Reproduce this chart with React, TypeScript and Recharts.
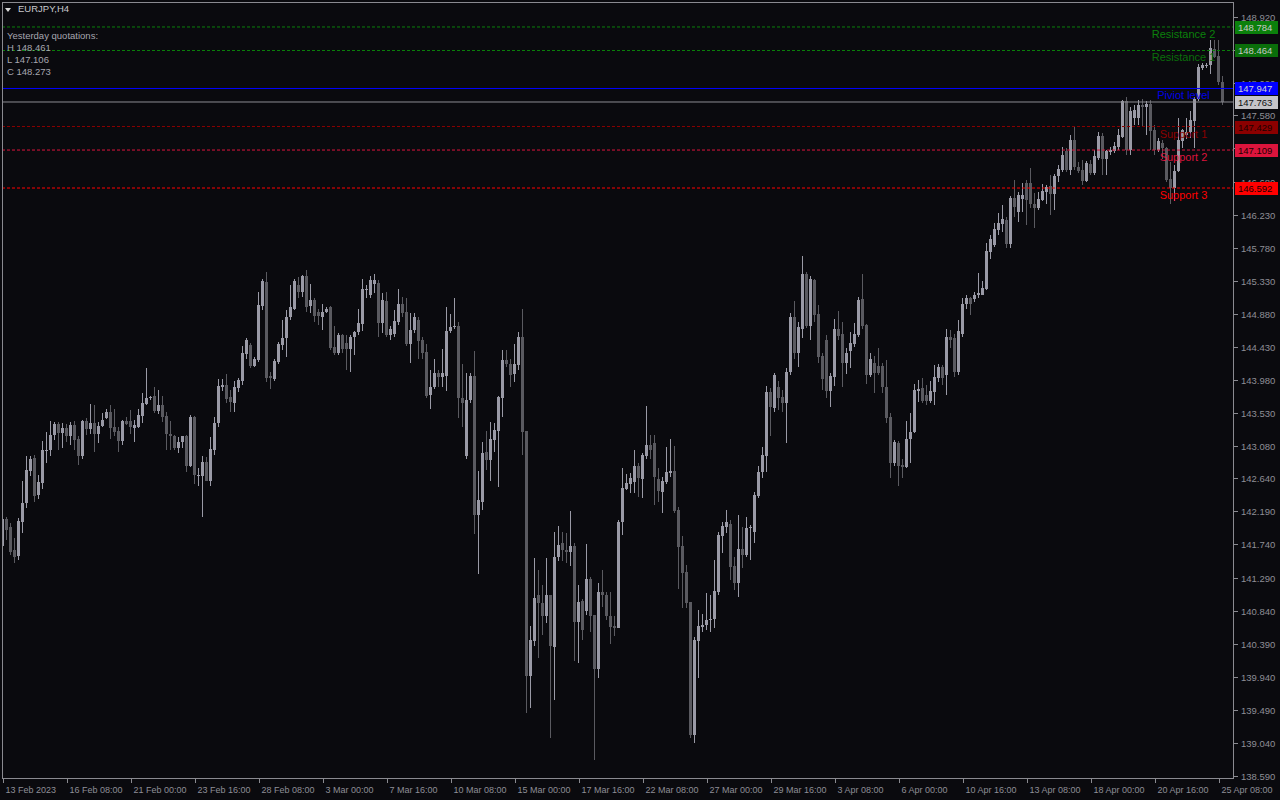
import React from 'react';
import { ComposedChart, Bar, XAxis, YAxis, ReferenceLine } from 'recharts';

// EURJPY H4 candles (oldest first)
const OPEN = [
  141.72, 142.09, 141.98, 141.66, 141.58, 142.05, 142.31, 142.74, 142.92, 142.41,
  142.58, 143.02, 143.02, 143.23, 143.38, 143.26, 143.33, 143.22, 143.37, 143.17,
  142.94, 143.42, 143.31, 143.40, 143.24, 143.35, 143.46, 143.54, 143.34, 143.28,
  143.15, 143.42, 143.42, 143.33, 143.34, 143.49, 143.65, 143.73, 143.76, 143.56,
  143.64, 143.49, 143.25, 143.21, 143.06, 143.13, 143.21, 142.81, 143.48, 142.68,
  142.67, 142.86, 142.61, 143.03, 143.39, 143.89, 143.91, 143.75, 143.67, 143.87,
  143.97, 144.33, 144.46, 144.17, 144.25, 144.99, 145.31, 144.03, 143.99, 144.23,
  144.46, 144.55, 144.84, 144.94, 145.27, 145.18, 145.39, 144.98, 145.07, 144.90,
  144.83, 144.90, 144.97, 144.43, 144.35, 144.59, 144.48, 144.40, 144.57, 144.63,
  144.74, 145.21, 145.14, 145.29, 145.30, 144.76, 145.06, 144.59, 144.60, 144.77,
  145.01, 144.90, 144.47, 144.66, 144.79, 144.52, 144.36, 143.77, 143.88, 144.07,
  144.02, 144.03, 144.64, 144.70, 144.71, 143.74, 142.95, 143.70, 144.03, 142.14,
  142.32, 143.00, 142.89, 143.16, 143.29, 143.73, 144.25, 144.20, 144.06, 144.18,
  144.57, 143.29, 139.95, 140.43, 141.05, 140.95, 140.77, 141.05, 140.35, 141.57,
  141.76, 141.66, 141.64, 141.72, 140.68, 140.97, 140.84, 141.27, 140.78, 140.04,
  141.10, 141.05, 140.77, 140.63, 140.61, 142.04, 142.50, 142.57, 142.59, 142.81,
  142.63, 142.95, 143.09, 143.12, 142.63, 142.46, 142.59, 142.71, 142.74, 142.21,
  141.72, 141.36, 140.96, 139.15, 140.43, 140.62, 140.64, 140.71, 140.72, 141.10,
  141.86, 141.98, 142.02, 141.45, 141.21, 141.68, 141.60, 141.96, 141.91, 142.40,
  142.72, 142.94, 143.82, 143.60, 143.89, 143.75, 143.67, 144.09, 144.84, 144.34,
  144.67, 145.42, 144.71, 145.34, 144.88, 144.30, 144.52, 143.83, 144.02, 144.67,
  144.61, 144.21, 144.38, 144.47, 144.59, 145.08, 144.73, 144.05, 144.21, 144.17,
  144.17, 143.89, 143.47, 142.85, 143.12, 142.82, 142.80, 143.17, 143.27, 143.83,
  143.87, 143.77, 143.69, 143.82, 144.01, 144.16, 144.05, 144.57, 144.55, 144.09,
  144.60, 145.01, 145.09, 145.08, 145.14, 145.14, 145.22, 145.72, 145.82, 146.02,
  146.10, 146.16, 145.83, 146.45, 146.26, 146.44, 146.66, 146.66, 146.38, 146.32,
  146.43, 146.54, 146.62, 146.51, 146.75, 146.84, 147.10, 146.84, 147.25, 146.88,
  146.84, 146.69, 146.92, 146.79, 147.00, 147.30, 146.99, 147.08, 147.10, 147.15,
  147.29, 147.77, 147.11, 147.54, 147.54, 147.72, 147.69, 147.74, 147.38, 147.11,
  147.20, 147.13, 146.71, 146.59, 146.82, 147.23, 147.31, 147.35, 147.50, 147.81,
  148.23, 148.26, 148.26, 148.49, 148.39, 148.04,
];

const HIGH = [
  142.38, 142.12, 142.03, 141.83, 142.10, 142.60, 142.94, 142.95, 142.96, 142.69,
  143.15, 143.27, 143.42, 143.41, 143.41, 143.39, 143.38, 143.41, 143.42, 143.22,
  143.44, 143.46, 143.65, 143.64, 143.41, 143.53, 143.59, 143.64, 143.59, 143.34,
  143.44, 143.47, 143.57, 143.44, 143.58, 143.80, 144.14, 143.76, 143.89, 143.84,
  143.76, 143.55, 143.42, 143.23, 143.20, 143.22, 143.23, 143.50, 143.49, 142.78,
  142.94, 142.93, 143.20, 143.48, 143.99, 143.99, 144.06, 143.84, 143.96, 144.01,
  144.44, 144.55, 144.48, 144.29, 145.18, 145.35, 145.45, 144.09, 144.26, 144.49,
  144.79, 144.93, 145.27, 145.35, 145.38, 145.41, 145.48, 145.29, 145.09, 144.95,
  145.02, 144.97, 144.98, 144.71, 144.62, 144.60, 144.59, 144.59, 144.65, 144.94,
  145.36, 145.27, 145.39, 145.42, 145.34, 145.16, 145.17, 144.71, 144.93, 145.22,
  145.11, 145.10, 144.89, 144.89, 144.84, 144.57, 144.47, 144.11, 144.26, 144.11,
  144.40, 144.97, 144.88, 145.09, 144.77, 144.20, 144.07, 144.08, 144.37, 142.74,
  143.13, 143.29, 143.41, 143.39, 143.76, 144.39, 144.39, 144.26, 144.47, 144.63,
  144.94, 143.29, 140.63, 141.55, 141.39, 141.19, 141.56, 141.05, 141.91, 141.99,
  141.91, 141.90, 142.20, 141.76, 141.19, 141.00, 141.75, 141.30, 140.78, 141.22,
  141.39, 141.10, 141.10, 140.76, 142.08, 142.78, 142.70, 142.71, 143.03, 142.85,
  142.99, 143.62, 143.23, 143.23, 142.78, 142.66, 143.07, 143.17, 143.08, 142.25,
  141.85, 141.46, 140.96, 140.48, 140.85, 140.80, 141.08, 141.05, 141.53, 141.91,
  142.05, 142.21, 142.08, 141.57, 142.14, 141.98, 142.12, 142.00, 142.45, 142.81,
  143.07, 143.90, 143.87, 144.08, 143.97, 143.84, 144.14, 144.89, 145.06, 144.77,
  145.66, 145.45, 145.39, 145.36, 145.00, 144.35, 144.59, 144.08, 144.81, 144.92,
  144.77, 144.41, 144.63, 144.75, 145.11, 145.42, 144.74, 144.34, 144.30, 144.42,
  144.21, 144.25, 143.53, 143.16, 143.15, 142.91, 143.42, 143.53, 143.93, 143.98,
  144.00, 143.91, 143.96, 144.18, 144.19, 144.18, 144.67, 144.66, 144.60, 144.80,
  145.09, 145.14, 145.11, 145.18, 145.43, 145.33, 145.84, 145.95, 146.11, 146.25,
  146.36, 146.20, 146.49, 146.70, 146.54, 146.66, 146.70, 146.86, 146.52, 146.54,
  146.64, 146.63, 146.77, 146.78, 146.90, 147.15, 147.13, 147.31, 147.44, 146.95,
  146.97, 146.96, 146.97, 147.11, 147.36, 147.34, 147.11, 147.15, 147.22, 147.40,
  147.79, 147.83, 147.70, 147.72, 147.79, 147.81, 147.78, 147.79, 147.45, 147.27,
  147.25, 147.15, 146.95, 146.91, 147.54, 147.40, 147.54, 147.64, 147.83, 148.28,
  148.29, 148.29, 148.61, 148.61, 148.61, 148.11,
];

const LOW = [
  141.69, 141.80, 141.60, 141.49, 141.53, 141.90, 142.23, 142.67, 142.32, 142.36,
  142.49, 142.85, 142.95, 143.16, 143.02, 143.06, 143.13, 143.10, 143.03, 142.82,
  142.90, 143.23, 143.24, 143.00, 143.12, 143.34, 143.45, 143.17, 143.21, 143.00,
  143.09, 143.37, 143.25, 143.14, 143.32, 143.40, 143.64, 143.71, 143.53, 143.52,
  143.41, 143.03, 143.03, 143.02, 142.98, 143.06, 142.73, 142.80, 142.56, 142.53,
  142.12, 142.60, 142.53, 142.96, 143.34, 143.83, 143.66, 143.55, 143.55, 143.81,
  143.91, 144.26, 144.14, 144.15, 144.23, 144.93, 143.95, 143.85, 143.97, 144.20,
  144.39, 144.29, 144.79, 144.93, 145.09, 145.11, 144.91, 144.89, 144.77, 144.73,
  144.66, 144.89, 144.39, 144.32, 144.32, 144.34, 144.11, 144.09, 144.32, 144.59,
  144.64, 145.10, 145.09, 145.16, 144.57, 144.62, 144.57, 144.52, 144.57, 144.73,
  144.84, 144.44, 144.21, 144.62, 144.27, 144.27, 143.73, 143.59, 143.85, 143.89,
  143.89, 143.83, 144.62, 144.67, 143.46, 143.34, 142.91, 143.66, 141.88, 141.34,
  142.21, 142.76, 142.60, 143.00, 142.52, 143.48, 144.16, 143.88, 143.95, 144.11,
  142.96, 139.45, 139.52, 140.36, 140.19, 140.51, 140.67, 139.10, 139.62, 141.51,
  141.51, 141.49, 141.45, 140.15, 140.13, 140.44, 140.78, 140.55, 138.80, 139.92,
  140.89, 140.71, 140.39, 140.49, 140.60, 141.87, 142.48, 142.44, 142.44, 142.39,
  142.37, 142.91, 142.91, 142.28, 142.32, 142.17, 142.57, 142.66, 142.17, 141.14,
  140.87, 140.87, 139.10, 139.04, 139.92, 140.55, 140.58, 140.55, 140.60, 141.05,
  141.62, 141.89, 141.26, 141.12, 141.02, 141.42, 141.57, 141.53, 141.76, 142.37,
  142.64, 142.72, 143.21, 143.55, 143.57, 143.55, 143.12, 144.05, 144.27, 144.15,
  144.55, 144.68, 144.53, 144.77, 144.21, 143.84, 143.74, 143.61, 143.90, 144.52,
  143.88, 144.06, 144.14, 144.43, 144.57, 144.67, 143.93, 144.02, 143.80, 144.05,
  143.80, 143.39, 142.64, 142.81, 142.54, 142.64, 142.78, 142.85, 143.26, 143.68,
  143.66, 143.64, 143.66, 143.64, 143.95, 143.91, 143.77, 144.41, 144.02, 144.05,
  144.57, 144.95, 144.86, 145.04, 145.09, 145.13, 145.20, 145.63, 145.79, 145.95,
  146.00, 145.77, 145.77, 146.20, 146.13, 146.27, 146.09, 146.32, 146.05, 146.29,
  146.41, 146.38, 146.22, 146.29, 146.68, 146.81, 146.81, 146.77, 146.84, 146.79,
  146.63, 146.68, 146.77, 146.77, 146.97, 146.77, 146.77, 147.04, 147.07, 147.11,
  147.27, 147.04, 147.04, 147.45, 147.45, 147.43, 147.31, 147.11, 147.04, 147.08,
  146.99, 146.68, 146.38, 146.41, 146.81, 147.13, 147.26, 147.27, 147.13, 147.77,
  148.20, 148.22, 148.15, 148.36, 148.00, 147.72,
];

const CLOSE = [
  142.09, 141.94, 141.64, 141.57, 142.06, 142.31, 142.75, 142.91, 142.40, 142.59,
  143.03, 143.03, 143.23, 143.38, 143.26, 143.33, 143.22, 143.37, 143.16, 142.95,
  143.42, 143.31, 143.39, 143.25, 143.35, 143.44, 143.54, 143.33, 143.27, 143.15,
  143.42, 143.38, 143.34, 143.36, 143.50, 143.67, 143.74, 143.75, 143.56, 143.64,
  143.48, 143.25, 143.21, 143.06, 143.14, 143.21, 142.81, 143.48, 142.68, 142.69,
  142.86, 142.61, 143.04, 143.39, 143.90, 143.91, 143.72, 143.68, 143.89, 143.98,
  144.34, 144.52, 144.17, 144.26, 145.00, 145.33, 144.01, 144.01, 144.24, 144.47,
  144.55, 144.83, 144.97, 145.33, 145.18, 145.39, 144.97, 145.07, 144.85, 144.85,
  144.91, 144.95, 144.42, 144.35, 144.59, 144.40, 144.40, 144.57, 144.63, 144.76,
  145.22, 145.22, 145.34, 145.34, 144.76, 145.07, 144.59, 144.67, 144.78, 145.01,
  144.89, 144.47, 144.66, 144.84, 144.51, 144.35, 143.76, 143.88, 144.07, 144.02,
  144.08, 144.65, 144.70, 144.71, 143.73, 143.67, 143.71, 144.03, 142.14, 142.34,
  142.99, 142.89, 143.17, 143.30, 143.75, 144.25, 144.19, 144.05, 144.20, 144.57,
  143.27, 139.95, 140.44, 141.01, 140.94, 140.77, 141.05, 140.36, 141.57, 141.73,
  141.66, 141.64, 141.72, 140.68, 140.96, 140.57, 141.27, 140.77, 140.04, 141.10,
  141.05, 140.76, 140.62, 140.61, 142.05, 142.51, 142.58, 142.64, 142.81, 142.64,
  142.96, 143.09, 143.03, 142.66, 142.47, 142.61, 142.72, 142.74, 142.20, 141.70,
  141.35, 140.95, 139.15, 140.44, 140.63, 140.64, 140.71, 140.73, 141.11, 141.87,
  141.99, 142.05, 141.44, 141.21, 141.68, 141.60, 141.96, 141.98, 142.41, 142.73,
  142.96, 143.82, 143.61, 144.05, 143.73, 143.67, 144.09, 144.84, 144.34, 144.70,
  145.42, 144.71, 145.35, 144.86, 144.29, 143.99, 143.83, 144.03, 144.67, 144.58,
  144.21, 144.34, 144.48, 144.60, 145.07, 144.71, 144.05, 144.27, 144.08, 144.08,
  143.88, 143.46, 142.85, 143.14, 142.81, 142.80, 143.17, 143.27, 143.84, 143.86,
  143.69, 143.69, 143.83, 144.02, 144.16, 144.01, 144.57, 144.52, 144.09, 144.64,
  145.01, 145.09, 145.01, 145.14, 145.16, 145.23, 145.73, 145.90, 146.03, 146.11,
  146.17, 145.83, 146.45, 146.33, 146.50, 146.50, 146.43, 146.38, 146.32, 146.44,
  146.55, 146.61, 146.51, 146.76, 146.85, 147.04, 146.84, 147.25, 146.88, 146.82,
  146.69, 146.93, 146.79, 147.03, 147.30, 146.99, 147.09, 147.11, 147.17, 147.31,
  147.77, 147.11, 147.64, 147.65, 147.72, 147.69, 147.74, 147.37, 147.11, 147.23,
  147.13, 146.70, 146.59, 146.82, 147.25, 147.38, 147.36, 147.52, 147.81, 148.24,
  148.26, 148.27, 148.50, 148.38, 148.03, 147.763,
];

const TIME_TICKS = [0, 16, 32, 48, 64, 80, 96, 112, 128, 144, 160, 176, 192, 208, 224, 240, 256, 272, 288, 304];
const TIME_LABELS = [
  '13 Feb 2023', '16 Feb 08:00', '21 Feb 00:00', '23 Feb 16:00', '28 Feb 08:00',
  '3 Mar 00:00', '7 Mar 16:00', '10 Mar 08:00', '15 Mar 00:00', '17 Mar 16:00',
  '22 Mar 08:00', '27 Mar 00:00', '29 Mar 16:00', '3 Apr 08:00', '6 Apr 00:00',
  '10 Apr 16:00', '13 Apr 08:00', '18 Apr 00:00', '20 Apr 16:00', '25 Apr 08:00',
];

const PRICE_TICKS = [
  148.92, 148.47, 148.02, 147.58, 147.13, 146.68, 146.23, 145.78, 145.33, 144.88,
  144.43, 143.98, 143.53, 143.08, 142.64, 142.19, 141.74, 141.29, 140.84, 140.39,
  139.94, 139.49, 139.04, 138.59,
];

const LEVEL_NAMES = ['Resistance 2', 'Resistance 1', 'Piviot level', 'Support 1', 'Support 2', 'Support 3'];
const LEVEL_VALUES = [148.784, 148.464, 147.947, 147.429, 147.109, 146.592];
const LAST_PRICE = 147.763;

const QUOTE_NAMES = ['H', 'L', 'C'];
const QUOTE_VALUES = [148.461, 147.106, 148.273];

// look
const BG = '#0a0a0e';
const AXIS = '#8e8e96';
const FRAME = '#8a8a90';
const BULL = '#9a9aa6';
const BEAR = '#5a5a60';
const FONT = '"Liberation Sans", Arial, sans-serif';
const X_DOMAIN = [-0.325, 307.675];
const Y_DOMAIN = [138.548, 149.124];

const LEVEL_STYLE = [
  { line: '#0b800b', text: '#0b800b', badge: '#0b800b', badgeText: '#c8c8c8', dash: '3 2' },
  { line: '#0b800b', text: '#0b6e0b', badge: '#0a6e0a', badgeText: '#c8c8c8', dash: '3 2' },
  { line: '#0000ff', text: '#0000e6', badge: '#0000ff', badgeText: '#d0d0d0', dash: undefined },
  { line: '#8b0000', text: '#8b0000', badge: '#8b0000', badgeText: '#200000', dash: '3 2' },
  { line: '#dc143c', text: '#dc143c', badge: '#dc143c', badgeText: '#200000', dash: '3 2' },
  { line: '#ff0000', text: '#ff0000', badge: '#ff0000', badgeText: '#200000', dash: '3 2' },
];

const rows = OPEN.map((o, i) => ({
  i,
  open: o,
  high: HIGH[i],
  low: LOW[i],
  close: CLOSE[i],
  range: [LOW[i], HIGH[i]],
}));

function Candle(props: any) {
  const { x, y, width, height, payload } = props;
  if (x == null || y == null) return null;
  const { open, close, high, low } = payload;
  const top = Math.min(y, y + height);
  const h = Math.abs(height);
  const span = high - low;
  const toY = (v: number) => (span > 0 ? top + ((high - v) / span) * h : top);
  const cx = Math.floor(x + width / 2);
  const color = close >= open ? BULL : BEAR;
  const wickTop = Math.round(top);
  const wickBot = Math.round(top + h);
  const bTop = Math.round(toY(Math.max(open, close)));
  const bBot = Math.max(bTop + 1, Math.round(toY(Math.min(open, close))));
  return (
    <g>
      <rect x={cx} y={wickTop} width={1} height={Math.max(1, wickBot - wickTop)} fill={color} />
      <rect x={cx - 1} y={bTop} width={3} height={bBot - bTop} fill={color} />
    </g>
  );
}

function TimeTick(props: any) {
  const { x, y, payload } = props;
  const idx = TIME_TICKS.indexOf(payload.value);
  const px = Math.floor(x) + 0.5;
  return (
    <g>
      <line x1={px} y1={y} x2={px} y2={y + 4} stroke={FRAME} strokeWidth={1} />
      <text x={px + 2} y={y + 14} fill={AXIS} fontSize={9} fontFamily={FONT} textAnchor="start">
        {TIME_LABELS[idx]}
      </text>
    </g>
  );
}

function PriceTick(props: any) {
  const { x, y, payload } = props;
  const py = Math.round(y) + 0.5;
  return (
    <g>
      <line x1={x} y1={py} x2={x + 4} y2={py} stroke={FRAME} strokeWidth={1} />
      <text x={x + 7} y={py + 3.5} fill={AXIS} fontSize={9.5} fontFamily={FONT} textAnchor="start">
        {Number(payload.value).toFixed(3)}
      </text>
    </g>
  );
}

function makeLevelLabel(k: number) {
  return (props: any) => {
    const vb = props.viewBox || {};
    const ly = Math.round(vb.y);
    const right = vb.x + vb.width;
    const st = LEVEL_STYLE[k];
    return (
      <g>
        <text x={right - 50.5} y={ly + 11} fill={st.text} fontSize={11} fontFamily={FONT} textAnchor="middle">
          {LEVEL_NAMES[k]}
        </text>
        <rect x={right + 1} y={ly - 6} width={43} height={13} fill={st.badge} />
        <text x={right + 4} y={ly + 4} fill={st.badgeText} fontSize={9.5} fontFamily={FONT}>
          {LEVEL_VALUES[k].toFixed(3)}
        </text>
      </g>
    );
  };
}

function lastPriceLabel(props: any) {
  const vb = props.viewBox || {};
  const ly = Math.round(vb.y);
  const right = vb.x + vb.width;
  return (
    <g>
      <rect x={right + 1} y={ly - 6} width={43} height={13} fill="#c4c4c8" />
      <text x={right + 4} y={ly + 4} fill="#101010" fontSize={9.5} fontFamily={FONT}>
        {LAST_PRICE.toFixed(3)}
      </text>
    </g>
  );
}

export default function App() {
  return (
    <div
      style={{
        position: 'absolute',
        left: 0,
        top: 0,
        width: 1280,
        height: 800,
        background: BG,
        overflow: 'hidden',
        fontFamily: FONT,
      }}
    >
      {/* candles and axes */}
      <ComposedChart width={1280} height={800} data={rows} margin={{ top: 2, right: 0, left: 2, bottom: 0 }}>
        <XAxis
          dataKey="i"
          type="number"
          domain={X_DOMAIN}
          allowDataOverflow
          ticks={TIME_TICKS}
          interval={0}
          height={21}
          tickSize={0}
          tickMargin={0}
          axisLine={false}
          tickLine={false}
          tick={<TimeTick />}
        />
        <YAxis
          orientation="right"
          type="number"
          domain={Y_DOMAIN}
          allowDataOverflow
          ticks={PRICE_TICKS}
          interval={0}
          width={46}
          tickSize={0}
          tickMargin={0}
          axisLine={false}
          tickLine={false}
          tick={<PriceTick />}
        />
        <Bar dataKey="range" shape={<Candle />} barSize={3} isAnimationActive={false} />
      </ComposedChart>

      {/* pivot levels, drawn on top of the price scale */}
      <div style={{ position: 'absolute', left: 0, top: 0 }}>
        <ComposedChart width={1280} height={800} data={rows} margin={{ top: 2, right: 46, left: 2, bottom: 21 }}>
          <XAxis dataKey="i" type="number" domain={X_DOMAIN} allowDataOverflow hide />
          <YAxis type="number" domain={Y_DOMAIN} allowDataOverflow hide />
          <ReferenceLine y={LAST_PRICE} stroke="#8c8c92" strokeWidth={1} label={lastPriceLabel} />
          {LEVEL_VALUES.map((v, k) => (
            <ReferenceLine
              key={LEVEL_NAMES[k]}
              y={v}
              stroke={LEVEL_STYLE[k].line}
              strokeWidth={1}
              strokeDasharray={LEVEL_STYLE[k].dash}
              label={makeLevelLabel(k)}
            />
          ))}
        </ComposedChart>
      </div>

      {/* chart frame */}
      <div
        style={{
          position: 'absolute',
          left: 2,
          top: 2,
          width: 1232,
          height: 777,
          boxSizing: 'border-box',
          border: `1px solid ${FRAME}`,
          pointerEvents: 'none',
        }}
      />

      {/* symbol caption */}
      <div style={{ position: 'absolute', left: 5, top: 8, width: 0, height: 0, borderLeft: '3.5px solid transparent', borderRight: '3.5px solid transparent', borderTop: '4px solid #d8d8d8' }} />
      <div style={{ position: 'absolute', left: 18, top: 3, fontSize: 9.5, color: '#c8c8cc', whiteSpace: 'nowrap' }}>
        EURJPY,H4
      </div>

      {/* yesterday quotations */}
      <div style={{ position: 'absolute', left: 7, top: 30, fontSize: 9.5, lineHeight: '12px', color: '#a6a6ae', whiteSpace: 'nowrap' }}>
        <div>Yesterday quotations:</div>
        {QUOTE_NAMES.map((n, k) => (
          <div key={n}>
            {n} {QUOTE_VALUES[k].toFixed(3)}
          </div>
        ))}
      </div>
    </div>
  );
}
